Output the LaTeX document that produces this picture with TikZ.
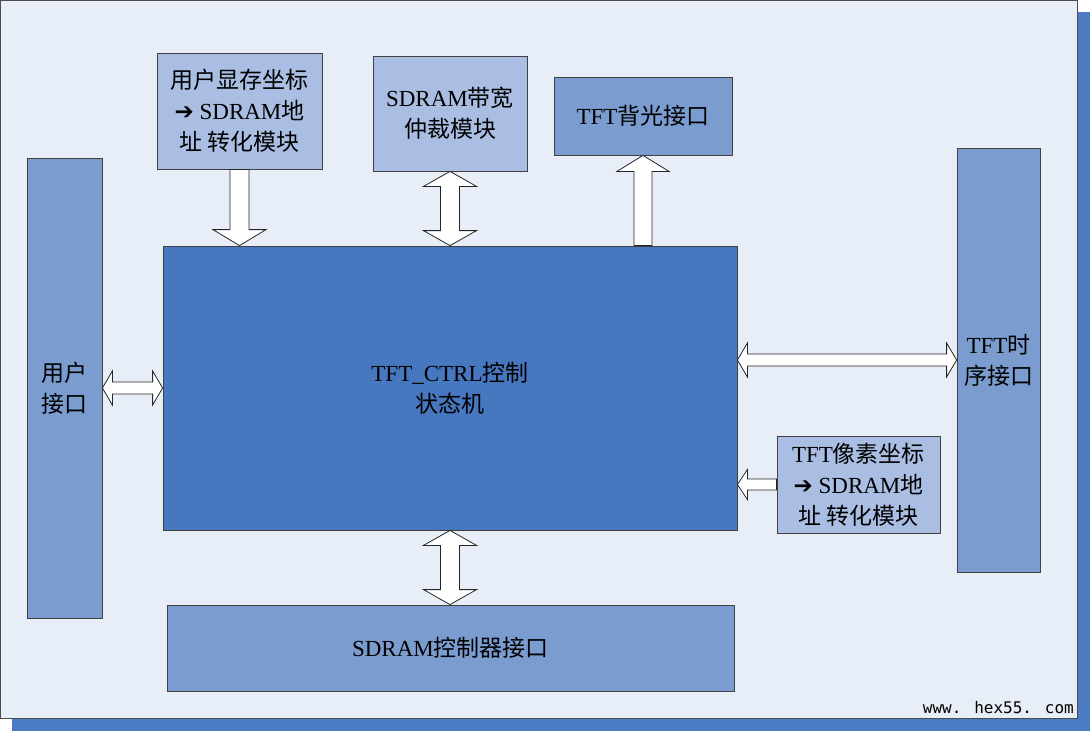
\documentclass[tikz,border=0pt]{standalone}
\usepackage{fontspec}
\setmainfont{Liberation Serif}
\newfontfamily\cjk{Noto Sans CJK SC}
\newfontfamily\symfont{DejaVu Sans}
\newfontfamily\wmfont{DejaVu Sans Mono}
\usetikzlibrary{calc}

\definecolor{framebg}{HTML}{E8EEF7}
\definecolor{shadowblue}{HTML}{4A7BC3}
\definecolor{ctrlblue}{HTML}{4677BF}
\definecolor{midblue}{HTML}{7B9CCF}
\definecolor{lightblue}{HTML}{A9BEE2}

\newcommand{\zh}[1]{{\cjk #1}}

% block arrows between named nodes
\newcommand{\blockdown}[2]{%
  \draw[blockarrow] let \p1=(#1.south), \p2=(#2.north) in
    (\x1-9.5pt,\y1) -- (\x1-9.5pt,\y2+16pt) -- (\x1-26.5pt,\y2+16pt) -- (\x1,\y2)
    -- (\x1+26.5pt,\y2+16pt) -- (\x1+9.5pt,\y2+16pt) -- (\x1+9.5pt,\y1) -- cycle;}
\newcommand{\blockup}[2]{%
  \draw[blockarrow] let \p1=(#2.south), \p2=(#1.north) in
    (\x1-9pt,\y2) -- (\x1-9pt,\y1-16pt) -- (\x1-26pt,\y1-16pt) -- (\x1,\y1)
    -- (\x1+26pt,\y1-16pt) -- (\x1+9pt,\y1-16pt) -- (\x1+9pt,\y2) -- cycle;}
\newcommand{\blockvv}[2]{%
  \draw[blockarrow] let \p1=(#1.south), \p2=(#2.north) in
    (\x1,\y1) -- (\x1+26.5pt,\y1-15pt) -- (\x1+9.5pt,\y1-15pt) -- (\x1+9.5pt,\y2+15pt)
    -- (\x1+26.5pt,\y2+15pt) -- (\x1,\y2) -- (\x1-26.5pt,\y2+15pt) -- (\x1-9.5pt,\y2+15pt)
    -- (\x1-9.5pt,\y1-15pt) -- (\x1-26.5pt,\y1-15pt) -- cycle;}
\newcommand{\blockhh}[3]{%
  \draw[blockarrow] let \p1=(#1.east), \p2=(#2.west), \p3=(#3.center) in
    (\x1,\y3) -- (\x1+10pt,\y3+17pt) -- (\x1+10pt,\y3+6pt) -- (\x2-10pt,\y3+6pt)
    -- (\x2-10pt,\y3+17pt) -- (\x2,\y3) -- (\x2-10pt,\y3-17pt) -- (\x2-10pt,\y3-6pt)
    -- (\x1+10pt,\y3-6pt) -- (\x1+10pt,\y3-17pt) -- cycle;}
\newcommand{\blockleft}[2]{%
  \draw[blockarrow] let \p1=(#1.east), \p2=(#2.west) in
    (\x1,\y2) -- (\x1+10pt,\y2+15pt) -- (\x1+10pt,\y2+5.5pt) -- (\x2,\y2+5.5pt)
    -- (\x2,\y2-5.5pt) -- (\x1+10pt,\y2-5.5pt) -- (\x1+10pt,\y2-15pt) -- cycle;}

\begin{document}
\begin{tikzpicture}[x=1pt,y=1pt,
  box/.style={draw=black!75,line width=0.8pt,align=center,inner sep=0pt,
    font=\fontsize{23}{31}\selectfont},
  blockarrow/.style={draw=black!85,fill=white,line width=0.8pt}]
\useasboundingbox (0,0) rectangle (1090,-731);
% frame with shadow
\fill[shadowblue] (12,-12) rectangle (1090,-731);
\draw[fill=framebg,draw=black!70,line width=1pt] (0.5,-0.5) rectangle (1077.5,-718.5);

\node[box,fill=midblue,minimum width=75pt,minimum height=460pt] (user) at (64.5,-388) {\zh{用户}\\\zh{接口}};
\node[box,fill=ctrlblue,minimum width=574pt,minimum height=284pt] (ctrl) at (450,-388) {TFT\_CTRL\zh{控制}\\\zh{状态机}};
\node[box,fill=lightblue,minimum width=165pt,minimum height=116pt] (mem) at (239.5,-111) {\zh{用户显存坐标}\\{\symfont ➔} SDRAM\zh{地}\\\zh{址 转化模块}};
\node[box,fill=lightblue,minimum width=154pt,minimum height=115pt] (arb) at (450,-113.5) {SDRAM\zh{带宽}\\\zh{仲裁模块}};
\node[box,fill=midblue,minimum width=178pt,minimum height=78pt] (bl) at (643,-116) {TFT\zh{背光接口}};
\node[box,fill=midblue,minimum width=83pt,minimum height=424pt] (tim) at (998.5,-360) {TFT\zh{时}\\\zh{序接口}};
\node[box,fill=lightblue,minimum width=163pt,minimum height=97pt] (pix) at (858.5,-484.5) {TFT\zh{像素坐标}\\{\symfont ➔} SDRAM\zh{地}\\\zh{址 转化模块}};
\node[box,fill=midblue,minimum width=567pt,minimum height=86pt] (sdc) at (450.5,-648) {SDRAM\zh{控制器接口}};
\node[anchor=east,inner sep=0pt,font=\wmfont\fontsize{16}{16}\selectfont] (wm) at (1074,-708) {www. hex55. com};

\blockdown{mem}{ctrl}
\blockvv{arb}{ctrl}
\blockup{ctrl}{bl}
\blockhh{user}{ctrl}{user}
\blockhh{ctrl}{tim}{tim}
\blockleft{ctrl}{pix}
\blockvv{ctrl}{sdc}
\end{tikzpicture}
\end{document}
